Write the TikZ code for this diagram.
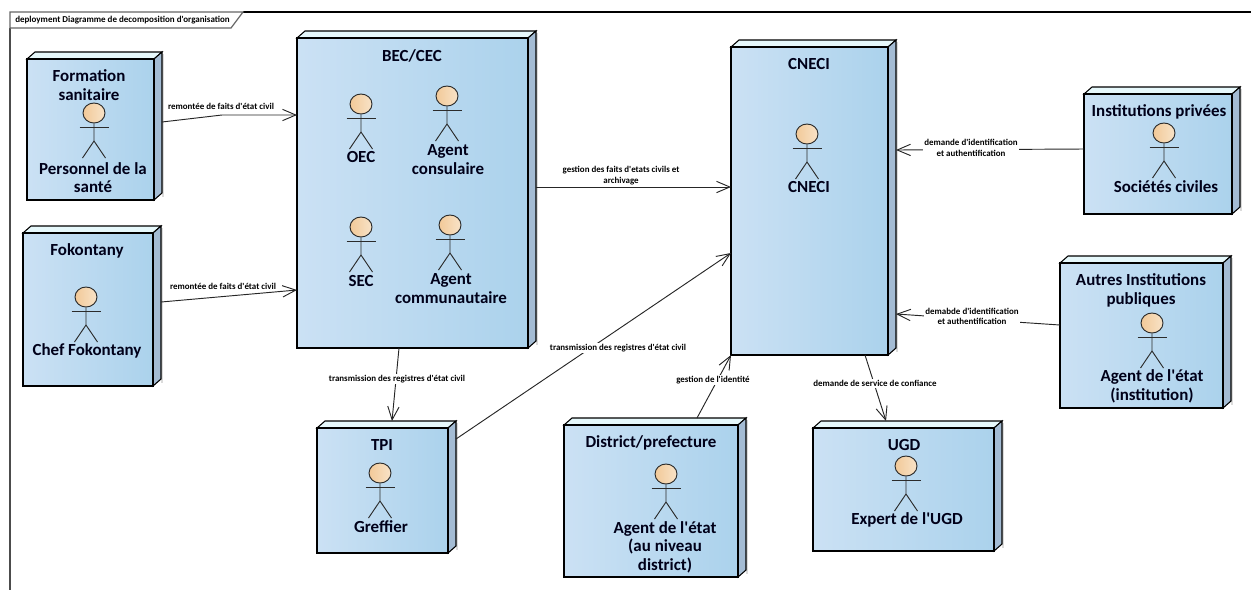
\documentclass[tikz,border=0pt]{standalone}
\usepackage{fontspec}
\setmainfont{Carlito}[Ligatures=TeXOff]
\usepackage{tikz}
\usetikzlibrary{arrows.meta,shapes.geometric}

\definecolor{faceleft}{HTML}{CBE1F4}
\definecolor{facemid}{HTML}{BEDBEC}
\definecolor{faceright}{HTML}{ABD2EC}
\definecolor{topface}{HTML}{E6F8FB}
\definecolor{sideface}{HTML}{A4BCD4}
\definecolor{headleft}{HTML}{F2C998}
\definecolor{headright}{HTML}{F8E3C8}
\definecolor{inkgray}{HTML}{2B2B2B}

\tikzset{
  deployarea/.style={inner sep=0pt,outer sep=0pt},
  deployface/.style={draw=black,line width=0.8pt,left color=faceleft,middle color=facemid,right color=faceright,shading angle=90},
  actorhead/.style={ellipse,draw=inkgray,line width=0.7pt,inner sep=0pt,minimum width=16.5pt,minimum height=15pt,left color=headleft,right color=headright},
  actorline/.style={draw=inkgray,line width=0.7pt},
  nodetitle/.style={align=center,inner sep=0pt,text=black!90!blue,font=\fontsize{12.7}{13.9}\selectfont\bfseries},
  flowlabel/.style={align=center,inner sep=1pt,fill=white,font=\fontsize{6.7}{8}\selectfont\bfseries},
  flow/.style={draw=black!85,line width=0.7pt,-{Straight Barb[length=10pt,width=8.5pt]}},
}

% box with depth: name, then left, top, right, bottom of the front face
\newcommand{\deploybox}[5]{
  \fill [black!14] ({#4+8},{#3-5}) rectangle ({#4+10},{#5-3});
  \draw [black,line width=0.8pt,fill=topface] (#2,#3) -- ({#2+8},{#3-7}) -- ({#4+8},{#3-7}) -- (#4,#3) -- cycle;
  \draw [black,line width=0.8pt,fill=sideface] (#4,#3) -- ({#4+8},{#3-7}) -- ({#4+8},{#5-7}) -- (#4,#5) -- cycle;
  \draw [deployface] (#2,#3) rectangle (#4,#5);
  \node (#1) [deployarea,anchor=south west,minimum width={0.75*(#4+8-#2)*1pt},minimum height={0.75*(#5-#3+7)*1pt}] at (#2,#5) {};
}
% stick figure: name, centre of the head
\newcommand{\actorfig}[3]{
  \node (#1) [actorhead] at (#2,#3) {};
  \draw [actorline] (#1.south) -- (#2,{#3+28}) -- ({#2-11.5},{#3+45});
  \draw [actorline] (#2,{#3+28}) -- ({#2+11.5},{#3+45});
  \draw [actorline] ({#2-14.5},{#3+14}) -- ({#2+14.5},{#3+14});
}

\begin{document}
\begin{tikzpicture}[x=0.75pt,y=0.75pt,yscale=-1,xscale=1]
\useasboundingbox (0,0) rectangle (1251,590);

%Frame
\draw [black,line width=0.8pt] (243,12) -- (1251,12);
\draw [black!70,line width=1.1pt] (10,28) -- (10,590);
\draw [black!60,line width=0.9pt,fill=white] (10,12) -- (243,12) -- (231,28) -- (10,28) -- cycle;
\node (frametitle) [inner sep=0pt,anchor=west,font=\fontsize{6.75}{8}\selectfont\bfseries] at (15,20.5) {deployment Diagramme de decomposition d'organisation};

%Boxes
\deploybox{form}{27}{59}{154}{200}
\deploybox{fok}{23}{233}{153}{386}
\deploybox{bec}{297}{38}{528}{348}
\deploybox{cneci}{731}{47}{888}{355}
\deploybox{inst}{1084}{94}{1232}{214}
\deploybox{autres}{1060}{263}{1223}{408}
\deploybox{tpi}{317}{428}{448}{553}
\deploybox{district}{564}{425}{738}{577}
\deploybox{ugd}{813}{428}{994}{551}

%Actors
\actorfig{formactor}{94}{113}
\actorfig{oec}{361}{104}
\actorfig{consul}{447}{96}
\actorfig{sec}{361}{227}
\actorfig{commu}{450}{225}
\actorfig{chef}{86}{297}
\actorfig{cneciactor}{807}{134}
\actorfig{societe}{1164}{133}
\actorfig{agentinst}{1152}{323}
\actorfig{greffier}{380}{473}
\actorfig{agentdist}{666}{474}
\actorfig{expert}{906}{466}

%Connectors
\coordinate (formbend) at (222,115);
\draw [flow] (form.east |- 0,122) -- (formbend) -- (bec.west |- 0,115);
\draw [flow] (fok.east |- 0,302) -- (bec.west |- 0,290);
\draw [flow] (bec.east |- 0,187) -- (cneci.west |- 0,187);
\draw [flow] (399,0 |- bec.south) -- (392,0 |- tpi.north);
\draw [flow] (tpi.east |- 0,439) -- (cneci.west |- 0,253);
\draw [flow] (697,0 |- district.north) -- (cneci.south west);
\draw [flow] (865,0 |- cneci.south) -- (886,0 |- ugd.north);
\draw [flow] (inst.west |- 0,149) -- (cneci.east |- 0,150);
\draw [flow] (autres.west |- 0,325) -- (cneci.east |- 0,314);

% Text Node
\node (t1) [nodetitle] at (89,85) {Formation\\sanitaire};
\node (t2) [nodetitle] at (93,177.5) {Personnel de la\\santé};
\node (t3) [nodetitle] at (412,56) {BEC/CEC};
\node (t4) [nodetitle] at (361,157) {OEC};
\node (t5) [nodetitle] at (448,159.5) {Agent\\consulaire};
\node (t6) [nodetitle] at (361,281) {SEC};
\node (t7) [nodetitle] at (451,288.5) {Agent\\communautaire};
\node (t8) [nodetitle] at (87,251) {Fokontany};
\node (t9) [nodetitle] at (87,351) {Chef Fokontany};
\node (t10) [nodetitle] at (809,64) {CNECI};
\node (t11) [nodetitle] at (809,187) {CNECI};
\node (t12) [nodetitle] at (1159,111.5) {Institutions privées};
\node (t13) [nodetitle] at (1166,187) {Sociétés civiles};
\node (t14) [nodetitle] at (1141,290.5) {Autres Institutions\\publiques};
\node (t15) [nodetitle] at (1152,386.5) {Agent de l'état\\(institution)};
\node (t16) [nodetitle] at (382,445) {TPI};
\node (t17) [nodetitle] at (381,527) {Greffier};
\node (t18) [nodetitle] at (651,443) {District/prefecture};
\node (t19) [nodetitle] at (665,547) {Agent de l'état\\(au niveau\\district)};
\node (t20) [nodetitle] at (904,445) {UGD};
\node (t21) [nodetitle] at (907,520) {Expert de l'UGD};

% Text Node
\node (l1) [flowlabel] at (221,106) {remontée de faits d'état civil};
\node (l2) [flowlabel] at (223,286) {remontée de faits d'état civil};
\node (l3) [flowlabel] at (621,175.5) {gestion des faits d'etats civils et\\archivage};
\node (l4) [flowlabel] at (397,379) {transmission des registres d'état civil};
\node (l5) [flowlabel] at (618,348) {transmission des registres d'état civil};
\node (l6) [flowlabel] at (713,380) {gestion de l'identité};
\node (l7) [flowlabel] at (875,383) {demande de service de confiance};
\node (l8) [flowlabel] at (971,148) {demande d'identification\\et authentification};
\node (l9) [flowlabel] at (972,316.5) {demabde d'identification\\et authentification};

\end{tikzpicture}
\end{document}
